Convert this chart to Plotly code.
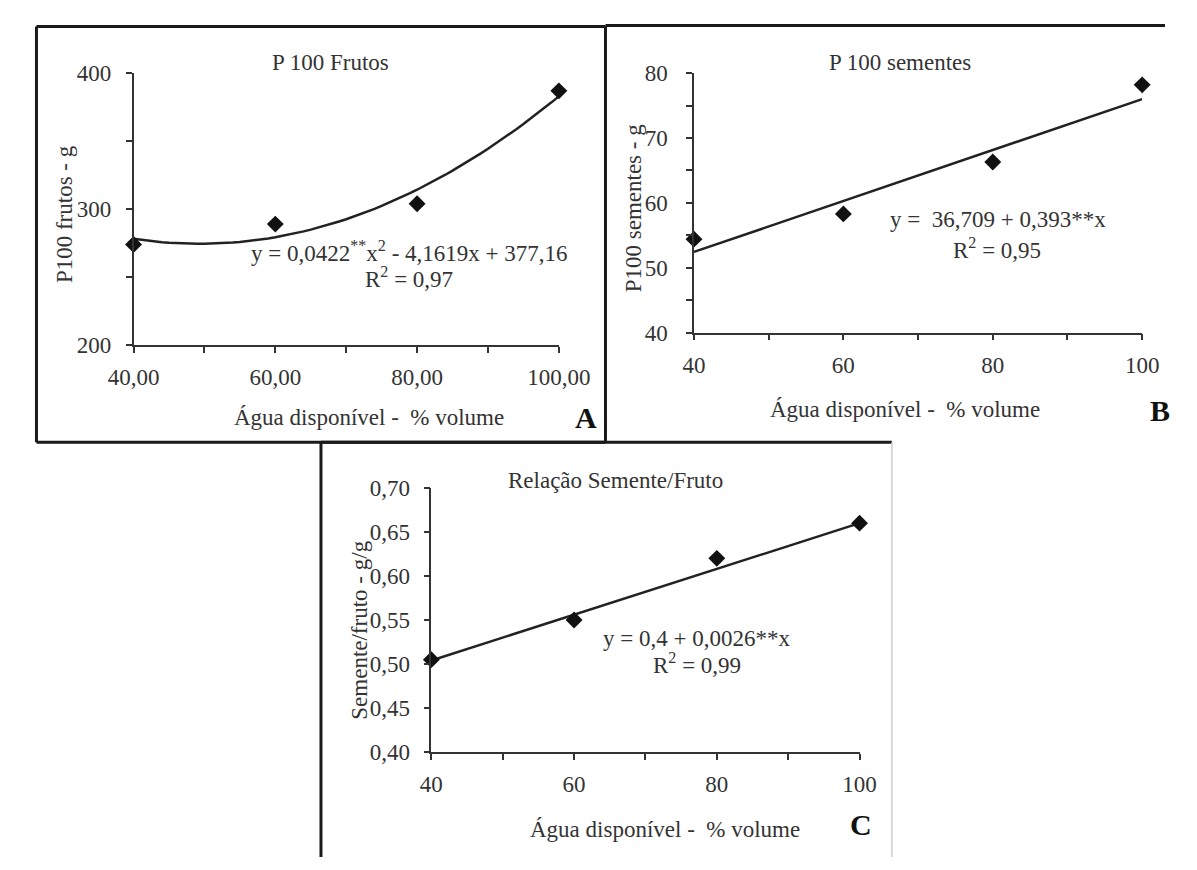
import numpy as np
import plotly.graph_objects as go

W, H = 1197, 870

# ---- data ----
water = [40, 60, 80, 100]
p100_frutos = [274, 289, 304, 387]
p100_sementes = [54.4, 58.3, 66.3, 78.2]
relacao = [0.505, 0.550, 0.620, 0.660]

# regression coefficients printed on the chart
coef_a = (0.0422, -4.1619, 377.16)   # quadratic a*x^2 + b*x + c
coef_b = (36.709, 0.393)             # linear
coef_c = (0.4, 0.0026)               # linear

FONT = "Liberation Serif"
TXT = "#333333"
DARK = "#222222"
FS = 23


def px(x):
    return x / W


def py(y):
    return 1 - y / H


fig = go.Figure()

xfit = np.linspace(min(water), max(water), 61)
fit_a = coef_a[0] * xfit ** 2 + coef_a[1] * xfit + coef_a[2]
fit_b = coef_b[0] + coef_b[1] * xfit
fit_c = coef_c[0] + coef_c[1] * xfit

panels = [
    ("x", "y", p100_frutos, fit_a),
    ("x2", "y2", p100_sementes, fit_b),
    ("x3", "y3", relacao, fit_c),
]
for xa, ya, vals, fit in panels:
    fig.add_trace(go.Scatter(x=xfit, y=fit, mode="lines", xaxis=xa, yaxis=ya,
                             line=dict(color=DARK, width=2.5), hoverinfo="skip",
                             showlegend=False, cliponaxis=False))
    fig.add_trace(go.Scatter(x=water, y=vals, mode="markers", xaxis=xa, yaxis=ya,
                             marker=dict(symbol="diamond", size=13, color="#111111"),
                             showlegend=False, cliponaxis=False))

tickfont = dict(family=FONT, size=FS, color=TXT)


def xax(domain, anchor, dtick, fmt):
    return dict(domain=domain, anchor=anchor, range=[40, 100], tick0=40, dtick=dtick,
                tickformat=fmt, showline=True, linecolor="#333", linewidth=1.5,
                ticks="outside", ticklen=6, tickcolor="#333", tickwidth=1.5,
                showgrid=False, zeroline=False, tickfont=tickfont, ticklabelstandoff=5,
                minor=dict(dtick=10, tick0=40, ticks="outside", ticklen=6,
                           tickcolor="#333", tickwidth=1.5, showgrid=False))


def yax(domain, anchor, rng, dtick, fmt, minor_dtick=None, standoff=10):
    d = dict(domain=domain, anchor=anchor, range=rng, tick0=rng[0], dtick=dtick,
             tickformat=fmt, showline=True, linecolor="#333", linewidth=1.5,
             ticks="outside", ticklen=6, tickcolor="#333", tickwidth=1.5,
             showgrid=False, zeroline=False, tickfont=tickfont, ticklabelstandoff=standoff)
    if minor_dtick:
        d["minor"] = dict(dtick=minor_dtick, tick0=rng[0], ticks="outside", ticklen=6,
                          tickcolor="#333", tickwidth=1.5, showgrid=False)
    return d


fig.update_layout(
    width=W, height=H, margin=dict(l=0, r=0, t=0, b=0),
    paper_bgcolor="white", plot_bgcolor="white", separators=",.",
    xaxis=xax([px(113), px(560)], "y", 20, ".2f"),
    yaxis=yax([py(343), py(63)], "x", [200, 400], 100, "d", 50, 10),
    xaxis2=xax([px(702), px(1173)], "y2", 20, "d"),
    yaxis2=yax([py(330), py(63)], "x2", [40, 80], 10, "d", 5, 14),
    xaxis3=xax([px(426), px(876)], "y3", 20, "d"),
    yaxis3=yax([py(762), py(490)], "x3", [0.40, 0.70], 0.05, ".2f", None, 9),
)

ann = []


def text(x, y, s, size=FS, angle=0, bold=False, color=TXT):
    ann.append(dict(x=px(x), y=py(y), xref="paper", yref="paper",
                    text=("<b>%s</b>" % s) if bold else s,
                    showarrow=False, textangle=angle, xanchor="center", yanchor="middle",
                    font=dict(family=FONT, size=size, color=color)))


# titles
text(320, 52, "P 100 Frutos")
text(918, 52, "P 100 sementes")
text(620, 482, "Relação Semente/Fruto")
# y titles
text(40, 208, "P100 frutos - g", angle=-90)
text(638, 202, "P100 sementes - g", angle=-90)
text(351, 636, "Semente/fruto - g/g", angle=-90)
# x titles
text(360, 417, "Água disponível -  % volume")
text(924, 409, "Água disponível -  % volume")
text(672, 842, "Água disponível -  % volume")
# letters
text(588, 418, "A", size=30, bold=True, color="#111")
text(1192, 410, "B", size=30, bold=True, color="#111")
text(877, 837, "C", size=30, bold=True, color="#111")
# equations
text(403, 247, "y = 0,0422<sup>**</sup>x<sup>2</sup> - 4,1619x + 377,16")
text(402, 273, "R<sup>2</sup> = 0,97")
text(1021, 214, "y =  36,709 + 0,393**x")
text(1020, 243, "R<sup>2</sup> = 0,95")
text(705, 645, "y = 0,4 + 0,0026**x")
text(705, 671, "R<sup>2</sup> = 0,99")

fig.update_layout(annotations=ann)

# panel frames
shapes = []


def line(x0, y0, x1, y1, color="#1a1a1a", width=3):
    shapes.append(dict(type="line", xref="paper", yref="paper", x0=px(x0), y0=py(y0),
                       x1=px(x1), y1=py(y1), line=dict(color=color, width=width)))


# panel A
line(11, 15, 609, 15)
line(11, 15, 11, 443)
line(11, 443, 609, 443)
line(609, 15, 609, 443)
# panel B top
line(609, 14, 1197, 14)
# panel C
line(310, 443, 910, 443)
line(310, 443, 310, 870)
line(910, 443, 910, 870, color="#cccccc", width=1.5)

fig.update_layout(shapes=shapes)

fig.write_html("out.html")
